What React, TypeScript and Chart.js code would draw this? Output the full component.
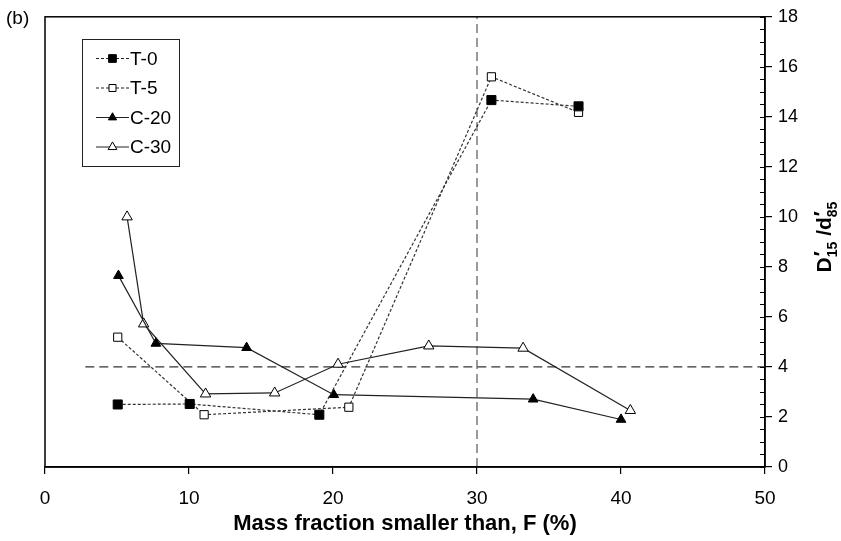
import { useEffect, useRef } from "react";
import { Chart, registerables } from "chart.js";

Chart.register(...registerables);

// ---- data ----
const SERIES_NAMES = ["T-0", "T-5", "C-20", "C-30"];
const T0_X = [5.05, 10.05, 19.05, 31.0, 37.05];
const T0_Y = [2.5, 2.52, 2.09, 14.67, 14.42];
const T5_X = [5.05, 11.05, 21.1, 31.0, 37.05];
const T5_Y = [5.19, 2.09, 2.39, 15.6, 14.18];
const C20_X = [5.1, 7.7, 14.0, 20.05, 33.9, 40.0];
const C20_Y = [7.65, 4.94, 4.77, 2.89, 2.71, 1.9];
const C30_X = [5.7, 6.85, 11.15, 15.95, 20.35, 26.65, 33.2, 40.65];
const C30_Y = [10.0, 5.72, 2.92, 2.96, 4.11, 4.84, 4.75, 2.26];
const REF_Y = 4;
const REF_Y_FROM = 2.8;
const REF_X = 30;
const X_MIN = 0, X_MAX = 50, X_STEP = 10;
const Y_MIN = 0, Y_MAX = 18, Y_STEP = 2, Y_MINOR = 0.5;
const X_TITLE = "Mass fraction smaller than, F (%)";
const PANEL_LABEL = "(b)";

const FONT = "'Liberation Sans', Arial, sans-serif";

const pts = (xs: number[], ys: number[]) => xs.map((x, i) => ({ x, y: ys[i] }));

const STYLES = [
  { pointStyle: "rect", radius: 6.4, fill: "#000", dash: [3, 2] },
  { pointStyle: "rect", radius: 5.8, fill: "#fff", dash: [3, 2] },
  { pointStyle: "triangle", radius: 5.6, fill: "#000", dash: [] as number[] },
  { pointStyle: "triangle", radius: 6.0, fill: "#fff", dash: [] as number[] },
];

const decor = {
  id: "decor",
  afterDraw(chart: any) {
    const { ctx, chartArea: a, scales } = chart;
    const ys = scales.y;
    ctx.save();
    // frame
    ctx.strokeStyle = "#000";
    ctx.lineWidth = 1.5;
    ctx.setLineDash([]);
    ctx.strokeRect(a.left, a.top, a.right - a.left, a.bottom - a.top);
    // minor inward ticks on right axis
    ctx.lineWidth = 1;
    for (let v = Y_MIN; v <= Y_MAX + 1e-9; v += Y_MINOR) {
      const py = Math.round(ys.getPixelForValue(v)) + 0.5;
      ctx.beginPath();
      ctx.moveTo(a.right - 5, py);
      ctx.lineTo(a.right, py);
      ctx.stroke();
    }

    // legend
    const lx0 = 82, ly0 = 39, lx1 = 179, ly1 = 166;
    ctx.fillStyle = "#fff";
    ctx.fillRect(lx0, ly0, lx1 - lx0, ly1 - ly0);
    ctx.strokeStyle = "#222";
    ctx.lineWidth = 1;
    ctx.strokeRect(lx0 + 0.5, ly0 + 0.5, lx1 - lx0, ly1 - ly0);
    const rowY = [58.5, 88, 117.5, 147];
    SERIES_NAMES.forEach((name, i) => {
      const st = STYLES[i];
      const cy = rowY[i];
      ctx.strokeStyle = "#222";
      ctx.lineWidth = 1.1;
      ctx.setLineDash(st.dash);
      ctx.beginPath();
      ctx.moveTo(96, cy);
      ctx.lineTo(129, cy);
      ctx.stroke();
      ctx.setLineDash([]);
      ctx.fillStyle = st.fill;
      ctx.strokeStyle = "#000";
      ctx.lineWidth = 1;
      const r = st.radius * 0.85;
      ctx.beginPath();
      if (st.pointStyle === "rect") {
        const s = Math.SQRT1_2 * r;
        ctx.rect(112.5 - s, cy - s, 2 * s, 2 * s);
      } else {
        ctx.moveTo(112.5, cy - r);
        ctx.lineTo(112.5 + r * Math.sin((2 * Math.PI) / 3), cy + r / 2);
        ctx.lineTo(112.5 - r * Math.sin((2 * Math.PI) / 3), cy + r / 2);
        ctx.closePath();
      }
      ctx.fill();
      ctx.stroke();
      ctx.fillStyle = "#000";
      ctx.font = `19px ${FONT}`;
      ctx.textAlign = "left";
      ctx.textBaseline = "middle";
      ctx.fillText(name, 130, cy + 1);
    });

    // panel label
    ctx.fillStyle = "#000";
    ctx.font = `19px ${FONT}`;
    ctx.textAlign = "left";
    ctx.textBaseline = "middle";
    ctx.fillText(PANEL_LABEL, 6, 19);

    // x title
    ctx.font = `bold 22px ${FONT}`;
    ctx.textAlign = "center";
    ctx.fillText(X_TITLE, (a.left + a.right) / 2, 524);

    // y title (rotated) D'15 / d'85
    const big = `bold 21px ${FONT}`;
    const small = `bold 14px ${FONT}`;
    type Seg = { t: string; f: string; dv: number; adv: boolean };
    const segs: Seg[] = [
      { t: "D", f: big, dv: 0, adv: true },
      { t: "\u2032", f: big, dv: -3, adv: false },
      { t: "15", f: small, dv: 6, adv: true },
      { t: " /d", f: big, dv: 0, adv: true },
      { t: "\u2032", f: big, dv: -3, adv: false },
      { t: "85", f: small, dv: 6, adv: true },
    ];
    let total = 0;
    segs.forEach((s) => {
      ctx.font = s.f;
      if (s.adv) total += ctx.measureText(s.t).width;
    });
    const cx = 831, cyT = 237;
    ctx.translate(cx, cyT);
    ctx.rotate(-Math.PI / 2);
    ctx.textAlign = "left";
    ctx.textBaseline = "alphabetic";
    let u = -total / 2;
    segs.forEach((s) => {
      ctx.font = s.f;
      ctx.fillText(s.t, u + (s.adv ? 0 : 1), s.dv);
      if (s.adv) u += ctx.measureText(s.t).width;
    });
    ctx.restore();
  },
};

export default function App() {
  const ref = useRef<HTMLCanvasElement | null>(null);
  useEffect(() => {
    document.body.style.margin = "0";
    const mk = (i: number, data: any[]) => ({
      label: SERIES_NAMES[i],
      data,
      showLine: true,
      borderColor: i < 2 ? "#333" : "#222",
      borderWidth: 1.2,
      borderDash: STYLES[i].dash,
      pointStyle: STYLES[i].pointStyle,
      pointRadius: STYLES[i].radius,
      pointBackgroundColor: STYLES[i].fill,
      pointBorderColor: "#000",
      pointBorderWidth: 1,
      fill: false,
      tension: 0,
    });
    const chart = new Chart(ref.current!, {
      type: "scatter",
      data: {
        datasets: [
          mk(0, pts(T0_X, T0_Y)),
          mk(1, pts(T5_X, T5_Y)),
          mk(2, pts(C20_X, C20_Y)),
          mk(3, pts(C30_X, C30_Y)),
          {
            label: "ref-h",
            data: [{ x: REF_Y_FROM, y: REF_Y }, { x: X_MAX, y: REF_Y }],
            showLine: true,
            borderColor: "#333",
            borderWidth: 1.2,
            borderDash: [9, 5],
            pointRadius: 0,
            fill: false,
          },
          {
            label: "ref-v",
            data: [{ x: REF_X, y: Y_MIN }, { x: REF_X, y: Y_MAX }],
            showLine: true,
            borderColor: "#555",
            borderWidth: 1.2,
            borderDash: [9, 5],
            pointRadius: 0,
            fill: false,
          },
        ] as any,
      },
      options: {
        animation: false,
        responsive: true,
        maintainAspectRatio: false,
        layout: { padding: { left: 45, top: 13, right: 0, bottom: 0 } },
        plugins: { legend: { display: false }, tooltip: { enabled: false } },
        scales: {
          x: {
            type: "linear",
            min: X_MIN,
            max: X_MAX,
            ticks: { stepSize: X_STEP, color: "#000", font: { family: FONT, size: 19 }, padding: 13, maxRotation: 0 },
            grid: { drawOnChartArea: false, drawTicks: true, tickLength: 7, color: "#000", lineWidth: 1.2 },
            border: { display: true, color: "#000", width: 1.5 },
            afterFit: (s: any) => { s.height = 74; },
          },
          y: {
            type: "linear",
            position: "right",
            min: Y_MIN,
            max: Y_MAX,
            ticks: { stepSize: Y_STEP, color: "#000", font: { family: FONT, size: 18 }, padding: 6 },
            grid: { drawOnChartArea: false, drawTicks: true, tickLength: 7, color: "#000", lineWidth: 1.2 },
            border: { display: true, color: "#000", width: 1.5 },
            afterFit: (s: any) => { s.width = 76; },
          },
        },
      } as any,
      plugins: [decor],
    });
    return () => chart.destroy();
  }, []);
  return (
    <div style={{ position: "fixed", left: 0, top: 0, width: 841, height: 541, background: "#fff" }}>
      <canvas ref={ref} />
    </div>
  );
}
